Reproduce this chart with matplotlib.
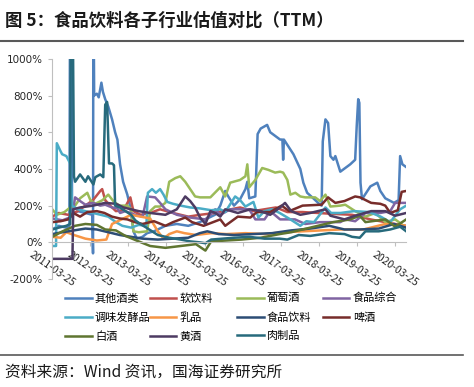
import matplotlib
matplotlib.use("Agg")
import matplotlib.pyplot as plt
from matplotlib.lines import Line2D
import numpy as np
import pandas as pd

plt.rcParams['font.family'] = ['Noto Sans CJK SC', 'DejaVu Sans']

# time positions are decimal years, values are relative valuation (%)
t_qtjl = [2011.23, 2011.40, 2011.60, 2011.68, 2011.70, 2011.73, 2011.75, 2011.90, 2012.10, 2012.28,
          2012.30, 2012.31, 2012.33, 2012.40, 2012.45, 2012.52, 2012.56, 2012.62, 2012.70, 2012.80,
          2012.88, 2012.94, 2013.01, 2013.09, 2013.20, 2013.28, 2013.36, 2013.45, 2013.60, 2013.72,
          2013.90, 2014.20, 2014.50, 2014.80, 2015.10, 2015.50, 2015.64, 2015.77, 2015.85, 2016.00,
          2016.16, 2016.30, 2016.35, 2016.40, 2016.56, 2016.62, 2016.70, 2016.87, 2016.95, 2017.08,
          2017.21, 2017.27, 2017.29, 2017.31, 2017.56, 2017.74, 2017.82, 2017.92, 2018.08, 2018.26,
          2018.30, 2018.33, 2018.40, 2018.47, 2018.53, 2018.61, 2018.66, 2018.79, 2018.92, 2019.05,
          2019.18, 2019.22, 2019.26, 2019.29, 2019.32, 2019.36, 2019.58, 2019.76, 2019.84, 2019.97,
          2020.20, 2020.32, 2020.36, 2020.42, 2020.52]
v_qtjl = [70, 90, 80, 90, 1500, 1500, 150, 170, 160, 150,
          -60, 1500, 800, 810, 790, 870, 820, 780, 740, 670,
          600, 560, 425, 330, 260, 190, 60, 20, 30, 50,
          60, 90, 100, 90, 110, 150, 200, 280, 250, 200,
          235, 290, 330, 240, 250, 590, 620, 640, 600, 580,
          560, 560, 450, 560, 480, 400, 325, 270, 240, 205,
          200, 550, 670, 650, 470, 450, 470, 385, 405, 425,
          450, 630, 780, 760, 325, 235, 305, 325, 280, 240,
          215, 230, 470, 425, 410]

t_ryl = [2011.23, 2011.40, 2011.65, 2011.90, 2012.10, 2012.30, 2012.49, 2012.54, 2012.62, 2012.75,
         2012.90, 2013.10, 2013.28, 2013.36, 2013.55, 2013.80, 2014.06, 2014.40, 2014.80, 2015.11,
         2015.50, 2015.80, 2016.16, 2016.50, 2016.80, 2017.10, 2017.40, 2017.80, 2018.20, 2018.60,
         2019.10, 2019.58, 2019.97, 2020.23, 2020.52]
v_ryl = [140, 160, 150, 170, 200, 230, 280, 290, 230, 200,
         170, 175, 245, 170, 150, 160, 180, 160, 140, 150,
         160, 175, 190, 170, 180, 190, 165, 165, 160, 155,
         150, 125, 110, 100, 90]

t_ptj = [2011.23, 2011.35, 2011.55, 2011.70, 2011.83, 2011.96, 2012.15, 2012.23, 2012.36, 2012.55,
         2012.70, 2012.85, 2013.00, 2013.20, 2013.30, 2013.36, 2013.50, 2013.72, 2013.80, 2013.93,
         2014.06, 2014.20, 2014.30, 2014.46, 2014.59, 2014.72, 2014.85, 2014.98, 2015.11, 2015.38,
         2015.64, 2015.77, 2015.90, 2016.16, 2016.30, 2016.35, 2016.40, 2016.56, 2016.74, 2016.90,
         2017.08, 2017.21, 2017.29, 2017.40, 2017.48, 2017.61, 2017.74, 2017.87, 2018.13, 2018.26,
         2018.40, 2018.53, 2018.79, 2018.92, 2019.18, 2019.45, 2019.71, 2019.97, 2020.23, 2020.52]
v_ptj = [180, 150, 165, 190, 200, 240, 270, 230, 210, 230,
         260, 220, 200, 200, 180, 60, 55, 60, 170, 195,
         195, 215, 330, 350, 360, 330, 290, 250, 245, 245,
         300, 250, 325, 340, 360, 425, 300, 340, 405, 395,
         380, 385, 380, 340, 260, 270, 250, 245, 245, 225,
         260, 195, 200, 205, 170, 140, 160, 110, 125, 80]

t_spzh = [2011.23, 2011.50, 2011.75, 2011.83, 2011.96, 2012.10, 2012.30, 2012.49, 2012.62, 2012.80,
          2012.94, 2013.01, 2013.15, 2013.40, 2013.60, 2013.72, 2013.93, 2014.06, 2014.20, 2014.50,
          2014.85, 2015.25, 2015.38, 2015.51, 2015.64, 2015.90, 2016.40, 2016.56, 2016.80, 2016.95,
          2017.21, 2017.60, 2017.87, 2018.26, 2018.79, 2018.92, 2019.18, 2019.45, 2019.84, 2020.10,
          2020.23, 2020.52]
v_spzh = [130, 120, 140, 245, 225, 205, 215, 200, 205, 190,
          185, 160, 170, 150, 140, 250, 245, 215, 180, 150,
          135, 125, 150, 180, 150, 180, 180, 125, 125, 170,
          125, 125, 100, 110, 110, 125, 115, 160, 160, 170,
          215, 215]

t_twfj = [2011.23, 2011.33, 2011.35, 2011.44, 2011.49, 2011.60, 2011.65, 2011.70, 2011.75, 2011.90,
          2012.10, 2012.30, 2012.50, 2012.70, 2012.90, 2013.07, 2013.30, 2013.50, 2013.70, 2013.74,
          2013.85, 2013.95, 2014.06, 2014.15, 2014.25, 2014.40, 2014.60, 2014.85, 2015.10, 2015.40,
          2015.64, 2015.77, 2016.03, 2016.16, 2016.30, 2016.51, 2016.64, 2016.80, 2017.00, 2017.20,
          2017.48, 2017.74, 2017.90, 2018.10, 2018.40, 2018.55, 2018.80, 2019.15, 2019.55, 2019.85,
          2020.10, 2020.36, 2020.52]
v_twfj = [-20, -20, 540, 500, 480, 470, 450, 430, 200, 180,
          170, 160, 150, 140, 110, 90, 80, 95, 90, 270,
          290, 270, 290, 260, 220, 210, 200, 190, 185, 175,
          180, 165, 250, 230, 195, 220, 135, 170, 180, 160,
          125, 90, 115, 110, 190, 160, 160, 170, 165, 140,
          110, 180, 200]

t_rp = [2011.23, 2011.45, 2011.60, 2011.80, 2012.10, 2012.40, 2012.65, 2012.80, 2013.00, 2013.30,
        2013.55, 2013.80, 2014.00, 2014.15, 2014.30, 2014.50, 2014.70, 2015.00, 2015.40, 2015.80,
        2016.30, 2016.80, 2017.30, 2017.80, 2018.30, 2018.80, 2019.40, 2019.97, 2020.30, 2020.52]
v_rp = [30, 25, 55, 40, 20, 10, 15, 100, 120, 150,
        140, 130, 60, 20, 45, 60, 50, 40, 50, 45,
        50, 45, 55, 60, 65, 70, 70, 100, 95, 90]

t_spyl = [2011.23, 2011.50, 2011.80, 2012.10, 2012.40, 2012.70, 2013.00, 2013.30, 2013.60, 2014.00,
          2014.40, 2014.80, 2015.10, 2015.30, 2015.60, 2016.00, 2016.50, 2017.00, 2017.50, 2018.00,
          2018.50, 2018.90, 2019.30, 2019.80, 2020.20, 2020.52]
v_spyl = [45, 55, 65, 75, 70, 55, 40, 30, 20, 15,
          20, 25, 50, 60, 45, 40, 45, 50, 65, 75,
          90, 70, 70, 75, 100, 80]

t_pj = [2011.23, 2011.45, 2011.65, 2011.78, 2011.96, 2012.15, 2012.40, 2012.60, 2012.80, 2013.00,
        2013.20, 2013.40, 2013.60, 2013.90, 2014.20, 2014.40, 2014.72, 2014.90, 2015.20, 2015.64,
        2015.77, 2016.10, 2016.43, 2016.60, 2016.95, 2017.25, 2017.45, 2017.80, 2018.30, 2018.47,
        2018.53, 2018.66, 2018.90, 2019.18, 2019.31, 2019.60, 2019.84, 2019.97, 2020.10, 2020.30,
        2020.40, 2020.52]
v_pj = [110, 115, 125, 160, 140, 165, 170, 160, 140, 130,
        125, 110, 100, 115, 90, 110, 135, 110, 90, 125,
        90, 140, 135, 165, 165, 200, 170, 200, 205, 245,
        235, 215, 225, 250, 245, 215, 210, 200, 160, 175,
        275, 280]

t_bj = [2011.23, 2011.50, 2011.83, 2012.10, 2012.40, 2012.62, 2012.90, 2013.15, 2013.50, 2013.80,
        2014.20, 2014.60, 2015.00, 2015.25, 2015.40, 2015.80, 2016.20, 2016.70, 2017.20, 2017.50,
        2018.00, 2018.30, 2018.60, 2019.05, 2019.30, 2019.45, 2019.97, 2020.23, 2020.52]
v_bj = [30, 60, 90, 100, 95, 70, 65, 35, 5, -20,
        -30, -20, -10, -45, 5, 10, 15, 25, 45, 55,
        80, 95, 110, 125, 145, 110, 125, 85, 125]

t_hj = [2011.23, 2011.76, 2011.78, 2011.96, 2012.30, 2012.62, 2012.90, 2013.10, 2013.50, 2013.80,
        2014.20, 2014.50, 2014.72, 2014.85, 2014.98, 2015.11, 2015.25, 2015.38, 2015.51, 2015.64,
        2015.77, 2016.10, 2016.43, 2016.70, 2016.95, 2017.21, 2017.34, 2017.50, 2017.74, 2018.00,
        2018.40, 2018.53, 2018.90, 2019.18, 2019.60, 2019.97, 2020.23, 2020.52]
v_hj = [-90, -90, 180, 190, 200, 215, 210, 190, 170, 160,
        150, 180, 250, 225, 190, 135, 100, 170, 160, 140,
        180, 160, 180, 170, 150, 190, 215, 170, 150, 160,
        180, 145, 125, 145, 170, 170, 145, 160]

t_rzp = [2011.23, 2011.40, 2011.60, 2011.70, 2011.72, 2011.76, 2011.80, 2011.83, 2011.96, 2012.10,
         2012.17, 2012.31, 2012.36, 2012.49, 2012.57, 2012.62, 2012.67, 2012.72, 2012.80, 2012.85,
         2012.88, 2013.00, 2013.15, 2013.30, 2013.41, 2013.54, 2013.70, 2013.85, 2014.00, 2014.30,
         2014.60, 2014.85, 2015.10, 2015.25, 2015.40, 2015.70, 2016.00, 2016.40, 2016.80, 2017.20,
         2017.40, 2017.70, 2018.00, 2018.50, 2018.90, 2019.10, 2019.30, 2019.45, 2019.80, 2020.10,
         2020.36, 2020.52]
v_rzp = [70, 80, 90, 100, 1500, 1500, 360, 330, 370, 330,
         360, 315, 355, 370, 355, 750, 765, 430, 430, 420,
         200, 190, 170, 150, 120, 100, 80, 60, 40, 25,
         15, 5, 0, -5, 15, 20, 25, 30, 20, 20,
         15, 40, 35, 50, 45, 30, 25, 60, 60, 70,
         85, 60]

series = [
    ('其他酒类', t_qtjl, v_qtjl, '#4F81BD'),
    ('软饮料', t_ryl, v_ryl, '#C0504D'),
    ('葡萄酒', t_ptj, v_ptj, '#9BBB59'),
    ('食品综合', t_spzh, v_spzh, '#8064A2'),
    ('调味发酵品', t_twfj, v_twfj, '#4BACC6'),
    ('乳品', t_rp, v_rp, '#F79646'),
    ('食品饮料', t_spyl, v_spyl, '#2C4D75'),
    ('啤酒', t_pj, v_pj, '#772C2A'),
    ('白酒', t_bj, v_bj, '#5F7530'),
    ('黄酒', t_hj, v_hj, '#4D3B62'),
    ('肉制品', t_rzp, v_rzp, '#276A7C'),
]

tick_dates = ['2011-03-25', '2012-03-25', '2013-03-25', '2014-03-25', '2015-03-25',
              '2016-03-25', '2017-03-25', '2018-03-25', '2019-03-25', '2020-03-25']
yticks = [-200, 0, 200, 400, 600, 800, 1000]


def to_date(years):
    years = np.asarray(years, dtype=float)
    return pd.Timestamp('2011-01-01') + pd.to_timedelta((years - 2011) * 365.25, unit='D')


fig = plt.figure(figsize=(4.74, 3.87), dpi=100)
ax = fig.add_axes([0.110, 0.279, 0.747, 0.569])

handles = []
for name, t, v, c in series:
    h, = ax.plot(to_date(t), v, color=c, lw=1.8, label=name, solid_joinstyle='round')
    handles.append(h)

ax.set_ylim(-200, 1000)
ax.set_xlim(to_date([2011.23])[0], to_date([2020.52])[0])
ax.set_yticks(yticks)
ax.set_yticklabels(['%d%%' % y for y in yticks])
ax.set_xticks(pd.to_datetime(tick_dates))
ax.set_xticklabels(tick_dates)
ax.tick_params(axis='both', length=3, color='#BFBFBF', width=0.8, labelsize=7.5,
               labelcolor='#262626')
ax.tick_params(axis='x', pad=2, labelrotation=-35)
for lab in ax.get_xticklabels() + ax.get_yticklabels():
    lab.set_family('DejaVu Sans')
for lab in ax.get_xticklabels():
    lab.set_ha('left')
    lab.set_va('top')
    lab.set_rotation_mode('anchor')
for s in ['top', 'right']:
    ax.spines[s].set_visible(False)
ax.spines['bottom'].set_position(('data', 0))
ax.spines['left'].set_color('#BFBFBF')
ax.spines['bottom'].set_color('#BFBFBF')

# legend: 4 columns laid out like Excel's grid
col_x = [0.137, 0.316, 0.500, 0.681]
for i, x in enumerate(col_x):
    col = handles[i::4]
    fig.legend(handles=col, labels=[h.get_label() for h in col], loc='upper left',
               bbox_to_anchor=(x, 0.243), frameon=False, fontsize=8,
               handlelength=2.4, handletextpad=0.3, labelspacing=0.78,
               borderpad=0, borderaxespad=0)

fig.text(0.011, 0.948, '图 5：食品饮料各子行业估值对比（TTM）', fontsize=12.5,
         fontweight='bold', va='center', ha='left', color='#1a1a1a')
fig.add_artist(Line2D([0, 0.977], [0.894, 0.894], color='#595959', lw=1.5))
fig.add_artist(Line2D([0, 0.977], [0.083, 0.083], color='#595959', lw=1.2))
fig.text(0.011, 0.039, '资料来源：Wind 资讯，国海证券研究所', fontsize=11.3,
         va='center', ha='left', color='#1a1a1a')

fig.savefig('out.png', dpi=100)
